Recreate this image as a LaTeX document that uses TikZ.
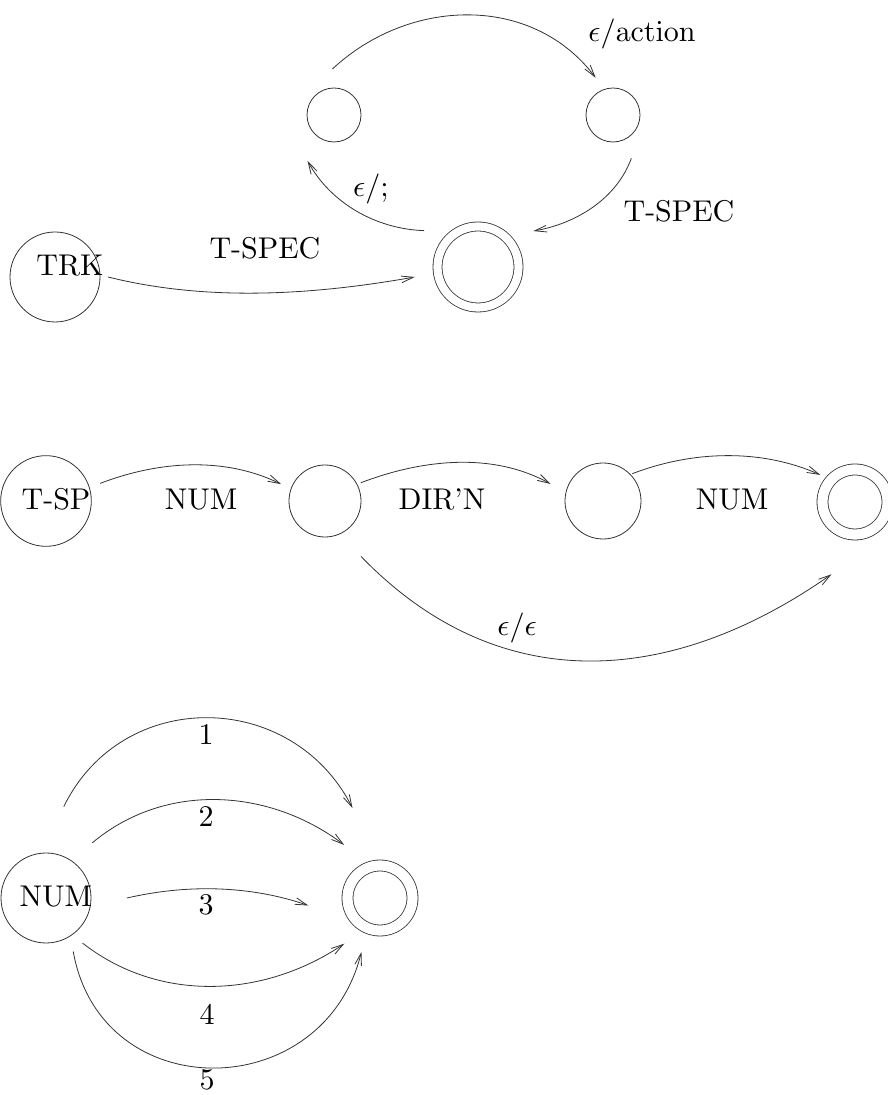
\documentclass[tikz,border=0pt]{standalone}
\usetikzlibrary{arrows.meta,calc}
\definecolor{ink}{gray}{0.2}
% label fonts: design-size 10 faces, scaled up
\font\labelfont=cmr10 at 22.5pt
\font\labelmath=cmmi10 at 22.5pt
\newcommand\myeps{{\labelmath\char"0F}}
\tikzset{
  st/.style={circle,draw=ink,line width=0.6pt,inner sep=0pt,minimum size=#1},
  acc/.style 2 args={circle,draw=ink,line width=0.6pt,double,double distance=#2,inner sep=0pt,minimum size=#1},
  lbl/.style={inner sep=0pt,anchor=base,text=black},
  tr/.style={draw=ink,line width=0.6pt,-{Straight Barb[length=9pt,width=5pt]}},
}
\begin{document}
\begin{tikzpicture}[x=0.75pt,y=0.75pt,
  every node/.style={font=\labelfont}]
\useasboundingbox (0,0) rectangle (888,1095);

% ---- machine 1: TRK ----
\node[st=40.5pt] (A) at (334,980) {};
\node[st=40.5pt] (B) at (613,980) {};
\node[acc={60.75pt}{6.15pt}] (C) at (478,828) {};
\node[st=67.5pt] (trk) at (55,818) {};
\node[lbl] (trkl) at (70,819) {TRK};

\draw[tr] ($(trk)+(0:53)$) to[out=-14,in=190,looseness=0.86] ($(C)+(189:64)$);
\draw[tr] ($(A)+(92:46)$) to[out=43,in=127,looseness=1.02] ($(B)+(115:41)$);
\draw[tr] ($(B)+(-67:47)$) to[out=-110,in=10,looseness=0.91] ($(C)+(33:66)$);
\draw[tr] ($(C)+(146:65)$) to[out=178,in=299,looseness=0.91] ($(A)+(240:53)$);

\node[lbl] (l1) at (265,836) {T-SPEC};
\node[lbl] (l2) at (642,1053) {\myeps/action};
\node[lbl] (l3) at (679,873) {T-SPEC};
\node[lbl] (l4) at (371,898) {\myeps/;};

% ---- machine 2: T-SP ----
\node[st=68pt] (tsp) at (46,594) {};
\node[lbl] (tspl) at (56,585) {T-SP};
\node[st=54pt] (N2) at (325,594) {};
\node[st=57pt] (N3) at (603,594) {};
\node[acc={48.75pt}{7.65pt}] (N4) at (855,593) {};

\draw[tr] ($(tsp)+(18:57)$) to[out=21,in=154,looseness=0.89] ($(N2)+(159:47)$);
\draw[tr] ($(N2)+(27:40)$) to[out=21,in=151,looseness=0.89] ($(N3)+(162:55)$);
\draw[tr] ($(N3)+(43:40)$) to[out=21,in=156,looseness=0.88] ($(N4)+(142:44)$);
\draw[tr] ($(N2)+(-57:66)$) to[out=-46,in=215,looseness=1.07] ($(N4)+(252:76)$);

\node[lbl] (m1) at (201,585) {NUM};
\node[lbl] (m2) at (442,585) {DIR'N};
\node[lbl] (m3) at (732,585) {NUM};
\node[lbl] (m4) at (517,459) {\myeps/\myeps};

% ---- machine 3: NUM ----
\node[st=67.5pt] (num) at (46,197) {};
\node[lbl] (numl) at (56,188) {NUM};
\node[acc={48.75pt}{7.65pt}] (F) at (380,197) {};

\draw[tr] ($(num)+(79:93)$) to[out=64,in=117,looseness=1.18] ($(F)+(107:94)$);
\draw[tr] ($(num)+(50:72)$) to[out=40,in=143,looseness=0.96] ($(F)+(124:64)$);
\draw[tr] ($(num)+(0:81)$) to[out=13,in=161,looseness=0.87] ($(F)+(186:72)$);
\draw[tr] ($(num)+(-51:58)$) to[out=-38,in=214,looseness=0.95] ($(F)+(232:58)$);
\draw[tr] ($(num)+(-63:60)$) to[out=-80,in=256,looseness=1.41] ($(F)+(251:57)$);

\node[lbl] (d1) at (206,350) {1};
\node[lbl] (d2) at (206,268) {2};
\node[lbl] (d3) at (206,180) {3};
\node[lbl] (d4) at (207,70) {4};
\node[lbl] (d5) at (207,6) {5};
\end{tikzpicture}
\end{document}
